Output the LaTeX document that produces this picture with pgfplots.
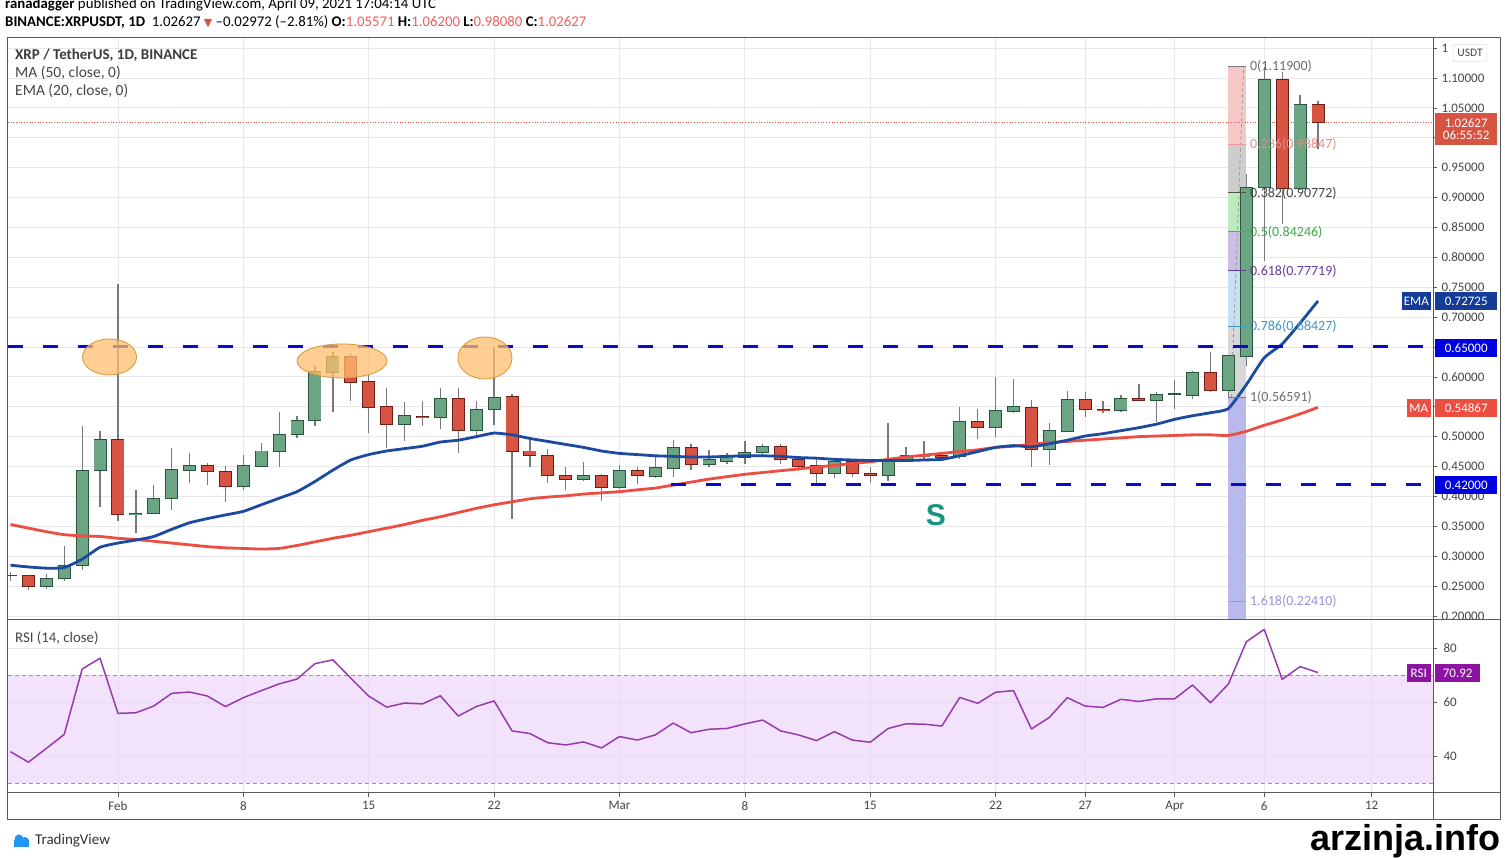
\documentclass[border=0pt]{standalone}
\usepackage{pgfplots}
\pgfplotsset{compat=1.18}
\usepackage{pgfplotstable}
\usepackage{fontspec}
\setmainfont{Carlito}
\newfontfamily\dejavu{DejaVu Sans}
\newfontfamily\arialb{Liberation Sans}
\newcommand\fs[1]{\fontsize{#1}{#1}\selectfont}
\definecolor{upfill}{RGB}{107,165,131}
\definecolor{upline}{RGB}{40,85,60}
\definecolor{dnfill}{RGB}{215,84,66}
\definecolor{dnline}{RGB}{110,30,20}
\definecolor{wick}{RGB}{120,120,125}
\definecolor{emac}{RGB}{27,74,160}
\definecolor{mac}{RGB}{236,78,66}
\definecolor{lvl}{RGB}{10,10,205}
\definecolor{gridc}{RGB}{232,232,236}
\definecolor{txt}{RGB}{70,70,70}
\definecolor{rsic}{RGB}{150,60,170}
\definecolor{rsifill}{RGB}{234,208,250}
\definecolor{ell}{RGB}{255,190,110}
\definecolor{elld}{RGB}{215,150,50}
\definecolor{steal}{RGB}{22,150,130}
\definecolor{pinkred}{RGB}{235,95,95}
\definecolor{frame}{RGB}{90,90,90}
\definecolor{boxblue}{RGB}{20,60,150}
\definecolor{lvlbox}{RGB}{0,0,225}
\definecolor{rsibox}{RGB}{140,20,160}
\definecolor{tvblue}{RGB}{33,150,243}

\pgfplotsset{
  wickplot/.style={draw=none, mark=none, forget plot,
    error bars/.cd, y dir=plus, y explicit, error mark=none,
    error bar style={line width=1.3pt, draw=wick}},
  bodyout/.style={draw=none, mark=none, forget plot,
    error bars/.cd, y dir=plus, y explicit, error mark=none,
    error bar style={line width=13pt, draw=#1}},
  bodyin/.style={draw=none, mark=none, forget plot,
    error bars/.cd, y dir=plus, y explicit, error mark=none,
    error bar style={line width=11.2pt, draw=#1}},
}

\pgfplotstableread{
d o h l c
-6 0.267 0.274 0.258 0.268
-4 0.249 0.270 0.245 0.263
-3 0.263 0.317 0.258 0.284
-2 0.284 0.517 0.277 0.444
-1 0.444 0.509 0.383 0.496
1 0.370 0.411 0.338 0.372
2 0.372 0.419 0.370 0.396
3 0.396 0.481 0.378 0.445
4 0.444 0.473 0.422 0.451
7 0.417 0.469 0.411 0.451
8 0.450 0.490 0.449 0.476
9 0.475 0.542 0.449 0.504
10 0.504 0.534 0.498 0.527
11 0.527 0.618 0.518 0.609
12 0.608 0.642 0.542 0.634
16 0.520 0.558 0.493 0.535
18 0.532 0.582 0.512 0.564
20 0.511 0.560 0.500 0.545
21 0.545 0.650 0.520 0.566
26 0.428 0.458 0.426 0.435
28 0.415 0.453 0.413 0.444
30 0.434 0.468 0.431 0.448
31 0.447 0.494 0.432 0.482
33 0.454 0.477 0.449 0.462
34 0.459 0.472 0.455 0.467
35 0.465 0.492 0.454 0.474
36 0.474 0.487 0.470 0.484
40 0.439 0.464 0.431 0.458
43 0.435 0.522 0.426 0.460
44 0.460 0.482 0.457 0.469
47 0.466 0.550 0.463 0.525
49 0.516 0.600 0.499 0.543
50 0.542 0.596 0.539 0.550
52 0.479 0.523 0.453 0.510
53 0.509 0.577 0.508 0.562
56 0.543 0.569 0.541 0.564
58 0.560 0.574 0.525 0.570
59 0.570 0.595 0.547 0.571
60 0.569 0.610 0.563 0.607
62 0.578 0.637 0.566 0.635
63 0.634 0.939 0.618 0.916
64 0.916 1.119 0.793 1.097
66 0.915 1.072 0.913 1.055
}\upT

\pgfplotstableread{
d o h l c
-5 0.267 0.268 0.243 0.249
0 0.496 0.755 0.359 0.370
5 0.451 0.456 0.419 0.442
6 0.442 0.451 0.390 0.417
13 0.634 0.640 0.560 0.590
14 0.593 0.603 0.506 0.549
15 0.550 0.581 0.481 0.520
17 0.534 0.559 0.518 0.532
19 0.564 0.582 0.472 0.511
22 0.567 0.572 0.363 0.475
23 0.476 0.497 0.450 0.468
24 0.468 0.480 0.423 0.435
25 0.435 0.450 0.410 0.428
27 0.435 0.437 0.392 0.415
29 0.444 0.449 0.420 0.435
32 0.482 0.487 0.445 0.454
37 0.484 0.488 0.454 0.461
38 0.462 0.467 0.443 0.450
39 0.451 0.462 0.422 0.439
41 0.458 0.462 0.433 0.439
42 0.439 0.449 0.422 0.435
45 0.469 0.492 0.463 0.466
46 0.469 0.475 0.460 0.465
48 0.525 0.547 0.496 0.516
51 0.549 0.562 0.450 0.479
54 0.562 0.574 0.533 0.546
55 0.546 0.560 0.539 0.544
57 0.564 0.588 0.559 0.561
61 0.607 0.642 0.574 0.578
65 1.097 1.110 0.855 0.915
67 1.05571 1.062 0.9808 1.02627
}\dnT

\pgfplotstableread{
d ema ma
-6 0.285 0.353
-5 0.282 0.347
-4 0.280 0.341
-3 0.281 0.336
-2 0.295 0.334
-1 0.315 0.333
0 0.322 0.330
1 0.327 0.328
2 0.333 0.325
3 0.345 0.322
4 0.356 0.319
5 0.363 0.316
6 0.369 0.314
7 0.375 0.313
8 0.386 0.312
9 0.397 0.313
10 0.408 0.318
11 0.425 0.324
12 0.444 0.330
13 0.461 0.335
14 0.470 0.341
15 0.476 0.347
16 0.480 0.353
17 0.484 0.360
18 0.491 0.366
19 0.494 0.373
20 0.500 0.380
21 0.506 0.386
22 0.503 0.391
23 0.497 0.396
24 0.492 0.399
25 0.487 0.401
26 0.482 0.404
27 0.476 0.406
28 0.472 0.408
29 0.470 0.411
30 0.468 0.414
31 0.467 0.419
32 0.466 0.424
33 0.466 0.429
34 0.467 0.433
35 0.468 0.437
36 0.468 0.440
37 0.467 0.443
38 0.465 0.446
39 0.464 0.449
40 0.462 0.452
41 0.461 0.455
42 0.460 0.458
43 0.460 0.462
44 0.460 0.466
45 0.461 0.469
46 0.462 0.472
47 0.468 0.475
48 0.475 0.478
49 0.482 0.482
50 0.485 0.484
51 0.483 0.487
52 0.488 0.490
53 0.494 0.492
54 0.501 0.494
55 0.505 0.496
56 0.510 0.498
57 0.515 0.500
58 0.521 0.501
59 0.529 0.502
60 0.535 0.503
61 0.540 0.503
62 0.547 0.502
63 0.587 0.509
64 0.632 0.519
65 0.655 0.528
66 0.690 0.538
67 0.727 0.549
}\maT

\pgfplotstableread{
d rsi
-6 41.6
-5 37.7
-4 42.8
-3 48.0
-2 72.2
-1 76.2
0 55.8
1 56.0
2 58.5
3 63.2
4 63.7
5 62.2
6 58.3
7 61.6
8 64.2
9 66.7
10 68.5
11 74.2
12 75.6
13 68.8
14 62.2
15 58.1
16 59.6
17 59.3
18 62.3
19 54.8
20 58.3
21 60.4
22 49.3
23 48.3
24 44.9
25 44.1
26 45.2
27 43.0
28 47.2
29 45.9
30 47.8
31 52.2
32 48.6
33 49.9
34 50.2
35 51.9
36 53.3
37 49.3
38 47.8
39 45.7
40 49.0
41 45.9
42 45.1
43 50.2
44 51.9
45 51.8
46 51.1
47 61.7
48 59.5
49 63.6
50 64.2
51 50.0
52 54.3
53 61.6
54 58.5
55 58.0
56 61.0
57 60.2
58 61.2
59 61.2
60 66.3
61 59.7
62 66.7
63 82.3
64 86.9
65 68.4
66 73.1
67 70.9
}\rsiT

\begin{document}
\begin{tikzpicture}[x=1pt,y=1pt]
\useasboundingbox (0,0) rectangle (1505,858);
\fill[white] (0,0) rectangle (1505,858);

% ---------------- main price axis ----------------
\begin{axis}[
  at={(8pt,238pt)}, anchor=south west, scale only axis,
  width=1425pt, height=582pt,
  xmin=-6.14, xmax=73.42, ymin=0.1933, ymax=1.1669,
  axis line style={draw=none},
  xtick={0,7,14,21,28,35,42,49,54,59,64,70}, xticklabels={},
  xtick style={draw=none},
  ytick={0.2,0.25,0.3,0.35,0.4,0.45,0.5,0.55,0.6,0.65,0.7,0.75,0.8,0.85,0.9,0.95,1.0,1.05,1.1,1.15},
  yticklabels={0.20000,0.25000,0.30000,0.35000,0.40000,0.45000,0.50000,,0.60000,,0.70000,0.75000,0.80000,0.85000,0.90000,0.95000,,1.05000,1.10000,1},
  ytick pos=right, yticklabel pos=right,
  ytick style={draw=frame, line width=0.6pt},
  tick align=outside, major tick length=4pt,
  yticklabel style={font=\fs{13}, text=txt, anchor=west, xshift=1pt},
  xmajorgrids, ymajorgrids,
  major grid style={draw=gridc, line width=0.8pt},
  clip=true,
]
% Fibonacci bands
\addplot[fill={rgb,255:red,245;green,200;blue,200}, draw=none, forget plot] coordinates {(62,0.98847) (63,0.98847) (63,1.119) (62,1.119)};
\addplot[fill={rgb,255:red,205;green,205;blue,205}, draw=none, forget plot] coordinates {(62,0.90772) (63,0.90772) (63,0.98847) (62,0.98847)};
\addplot[fill={rgb,255:red,190;green,235;blue,190}, draw=none, forget plot] coordinates {(62,0.84246) (63,0.84246) (63,0.90772) (62,0.90772)};
\addplot[fill={rgb,255:red,205;green,190;blue,230}, draw=none, forget plot] coordinates {(62,0.77719) (63,0.77719) (63,0.84246) (62,0.84246)};
\addplot[fill={rgb,255:red,200;green,225;blue,242}, draw=none, forget plot] coordinates {(62,0.68427) (63,0.68427) (63,0.77719) (62,0.77719)};
\addplot[fill={rgb,255:red,215;green,215;blue,215}, draw=none, forget plot] coordinates {(62,0.56591) (63,0.56591) (63,0.68427) (62,0.68427)};
\addplot[fill={rgb,255:red,185;green,185;blue,235}, draw=none, forget plot] coordinates {(62,0.1933) (63,0.1933) (63,0.56591) (62,0.56591)};
\addplot[draw={rgb,255:red,140;green,140;blue,140}, dashed, line width=0.7pt, forget plot] coordinates {(62.15,0.566) (62.85,1.119)};

% current price dotted line
\addplot[dnfill, dotted, line width=0.7pt, forget plot] coordinates {(-6.14,1.02627) (73.42,1.02627)};

% wicks
\addplot[wickplot] table[x=d, y=l, y error expr=\thisrow{h}-\thisrow{l}] \upT;
\addplot[wickplot] table[x=d, y=l, y error expr=\thisrow{h}-\thisrow{l}] \dnT;

% bodies (border then fill)
\addplot[bodyout=upline] table[x=d, y expr={min(\thisrow{o},\thisrow{c})-0.0008}, y error expr={max(abs(\thisrow{c}-\thisrow{o})+0.0016,0.003)}] \upT;
\addplot[bodyin=upfill] table[x=d, y expr={min(\thisrow{o},\thisrow{c})+0.0008}, y error expr={max(abs(\thisrow{c}-\thisrow{o})-0.0016,0)}] \upT;
\addplot[bodyout=dnline] table[x=d, y expr={min(\thisrow{o},\thisrow{c})-0.0008}, y error expr={max(abs(\thisrow{c}-\thisrow{o})+0.0016,0.003)}] \dnT;
\addplot[bodyin=dnfill] table[x=d, y expr={min(\thisrow{o},\thisrow{c})+0.0008}, y error expr={max(abs(\thisrow{c}-\thisrow{o})-0.0016,0)}] \dnT;

% moving averages
\addplot[mac, line width=2.8pt, line join=round, smooth, tension=0.3] table[x=d, y=ma] \maT;
\addplot[emac, line width=2.8pt, line join=round, smooth, tension=0.3] table[x=d, y=ema] \maT;

% horizontal levels
\addplot[lvl, line width=3pt, dash pattern=on 15pt off 20pt, forget plot] coordinates {(-6.14,0.65) (73.42,0.65)};
\addplot[lvl, line width=3pt, dash pattern=on 15pt off 20pt, forget plot] coordinates {(30.9,0.42) (73.42,0.42)};

% highlight ellipses
\filldraw[fill=ell, fill opacity=0.75, draw=elld, line width=0.8pt] (axis cs:-0.47,0.6333) ellipse [x radius=27pt, y radius=18pt];
\filldraw[fill=ell, fill opacity=0.75, draw=elld, line width=0.8pt] (axis cs:12.51,0.6266) ellipse [x radius=45pt, y radius=17pt];
\filldraw[fill=ell, fill opacity=0.75, draw=elld, line width=0.8pt] (axis cs:20.49,0.6316) ellipse [x radius=27pt, y radius=21pt];

% fib level lines
\addplot[draw={rgb,255:red,120;green,120;blue,120}, line width=1pt, forget plot] coordinates {(62,1.119) (63,1.119)};
\addplot[draw={rgb,255:red,240;green,150;blue,150}, line width=1pt, forget plot] coordinates {(62,0.98847) (63,0.98847)};
\addplot[draw={rgb,255:red,80;green,80;blue,80}, line width=1pt, forget plot] coordinates {(62,0.90772) (63,0.90772)};
\addplot[draw={rgb,255:red,76;green,175;blue,80}, line width=1pt, forget plot] coordinates {(62,0.84246) (63,0.84246)};
\addplot[draw={rgb,255:red,90;green,60;blue,150}, line width=1pt, forget plot] coordinates {(62,0.77719) (63,0.77719)};
\addplot[draw={rgb,255:red,60;green,150;blue,200}, line width=1pt, forget plot] coordinates {(62,0.68427) (63,0.68427)};
\addplot[draw={rgb,255:red,120;green,120;blue,120}, line width=1pt, forget plot] coordinates {(62,0.56591) (63,0.56591)};
\addplot[draw={rgb,255:red,150;green,150;blue,220}, line width=1pt, forget plot] coordinates {(62,0.2241) (63,0.2241)};

\begin{scope}[every node/.style={anchor=west, font=\fs{14}, inner sep=0pt}]
\node[text={rgb,255:red,110;green,110;blue,110}] at (axis cs:63.2,1.119) {0(1.11900)};
\node[text={rgb,255:red,232;green,140;blue,140}] at (axis cs:63.2,0.98847) {0.236(0.98847)};
\node[text={rgb,255:red,70;green,70;blue,70}] at (axis cs:63.2,0.90772) {0.382(0.90772)};
\node[text={rgb,255:red,60;green,170;blue,70}] at (axis cs:63.2,0.84246) {0.5(0.84246)};
\node[text={rgb,255:red,100;green,60;blue,160}] at (axis cs:63.2,0.77719) {0.618(0.77719)};
\node[text={rgb,255:red,60;green,150;blue,200}] at (axis cs:63.2,0.68427) {0.786(0.68427)};
\node[text={rgb,255:red,110;green,110;blue,110}] at (axis cs:63.2,0.56591) {1(0.56591)};
\node[text={rgb,255:red,150;green,150;blue,220}] at (axis cs:63.2,0.2241) {1.618(0.22410)};
\end{scope}

\node[text=steal, font=\arialb\bfseries\fs{30}] at (axis cs:45.67,0.369) {S};
\end{axis}

% ---------------- RSI axis ----------------
\begin{axis}[
  at={(8pt,65pt)}, anchor=south west, scale only axis,
  width=1425pt, height=173pt,
  xmin=-6.14, xmax=73.42, ymin=26.3, ymax=90.37,
  axis line style={draw=none},
  xtick={0,7,14,21,28,35,42,49,54,59,64,70},
  xticklabels={Feb,8,15,22,Mar,8,15,22,27,Apr,6,12},
  xtick pos=bottom, ytick pos=right, yticklabel pos=right,
  ytick={40,60,80},
  yticklabels={40,60,80},
  tick align=outside, major tick length=4pt,
  tick style={draw=frame, line width=0.6pt},
  xticklabel style={font=\fs{13}, text=txt, yshift=-1pt},
  yticklabel style={font=\fs{13}, text=txt, anchor=west, xshift=3pt},
  xmajorgrids, ymajorgrids,
  major grid style={draw=gridc, line width=0.8pt},
]
\addplot[fill=rsifill, fill opacity=0.6, draw=none, forget plot] coordinates {(-6.14,30) (73.42,30) (73.42,70) (-6.14,70)};
\addplot[draw={rgb,255:red,150;green,150;blue,155}, dash pattern=on 4pt off 3pt, line width=0.7pt, forget plot] coordinates {(-6.14,70) (73.42,70)};
\addplot[draw={rgb,255:red,150;green,150;blue,155}, dash pattern=on 4pt off 3pt, line width=0.7pt, forget plot] coordinates {(-6.14,30) (73.42,30)};
\addplot[rsic, line width=1.5pt, line join=round] table[x=d, y=rsi] \rsiT;
\end{axis}

% ---------------- frames ----------------
\draw[frame, line width=1pt] (7,820) rectangle (1500,38);
\draw[frame, line width=1pt] (1433,820) -- (1433,38);
\draw[frame, line width=1pt] (7,238) -- (1500,238);
\draw[frame, line width=1pt] (7,65) -- (1500,65);

% ---------------- header ----------------
\node[anchor=base west, font=\fs{14.8}, inner sep=0pt] at (5,849) {\textbf{ranadagger} published on TradingView.com, April 09, 2021 17:04:14 UTC};
\node[anchor=base west, font=\fs{14.8}, inner sep=0pt] at (5,831) {\textbf{BINANCE:XRPUSDT, 1D}\ \ 1.02627 {\dejavu\fs{11}\color{dnfill}▼} --0.02972 (--2.81\%) \textbf{O:}{\color{pinkred}1.05571} \textbf{H:}{\color{pinkred}1.06200} \textbf{L:}{\color{pinkred}0.98080} \textbf{C:}{\color{pinkred}1.02627}};

% legend in chart
\node[anchor=west, font=\bfseries\fs{15}, text={rgb,255:red,60;green,60;blue,60}, inner sep=0pt] at (15,803) {XRP / TetherUS, 1D, BINANCE};
\node[anchor=west, font=\fs{15.5}, text={rgb,255:red,70;green,70;blue,70}, inner sep=0pt] at (15,785) {MA (50, close, 0)};
\node[anchor=west, font=\fs{15.5}, text={rgb,255:red,70;green,70;blue,70}, inner sep=0pt] at (15,767) {EMA (20, close, 0)};
\node[anchor=west, font=\fs{14.8}, text={rgb,255:red,70;green,70;blue,70}, inner sep=0pt] at (15,220) {RSI (14, close)};

% right-side value boxes
\node[fill=white, draw={rgb,255:red,200;green,200;blue,200}, rounded corners=2pt, font=\fs{11.5}, text=txt, inner sep=2pt, minimum height=17pt, minimum width=34pt] at (1470,805) {USDT};
\node[fill=dnfill, text=white, anchor=north west, minimum width=62pt, minimum height=32pt, inner sep=1pt, align=center, font=\fs{13}] at (1435,745) {1.02627\\[-1pt]06:55:52};
\node[fill=boxblue, text=white, anchor=west, minimum width=62pt, minimum height=18pt, inner sep=0pt, font=\fs{13}] at (1435,557) {0.72725};
\node[fill=boxblue, text=white, anchor=east, minimum width=29pt, minimum height=18pt, inner sep=0pt, font=\fs{13}] at (1431,557) {EMA};
\node[fill=lvlbox, text=white, anchor=west, minimum width=62pt, minimum height=18pt, inner sep=0pt, font=\fs{13}] at (1435,510) {0.65000};
\node[fill=lvlbox, text=white, anchor=west, minimum width=62pt, minimum height=18pt, inner sep=0pt, font=\fs{13}] at (1435,373) {0.42000};
\node[fill=mac, text=white, anchor=west, minimum width=62pt, minimum height=18pt, inner sep=0pt, font=\fs{13}] at (1435,450) {0.54867};
\node[fill=mac, text=white, anchor=east, minimum width=24pt, minimum height=18pt, inner sep=0pt, font=\fs{13}] at (1431,450) {MA};
\node[fill=rsibox, text=white, anchor=west, minimum width=45pt, minimum height=18pt, inner sep=0pt, font=\fs{13}] at (1435,185) {70.92};
\node[fill=rsibox, text=white, anchor=east, minimum width=24pt, minimum height=18pt, inner sep=0pt, font=\fs{13}] at (1431,185) {RSI};

% footer
\fill[tvblue] (14,11) rectangle (29,18);
\fill[tvblue] (19,19) circle (4.5);
\fill[tvblue] (25,17) circle (4);
\node[anchor=west, font=\fs{15}, text={rgb,255:red,50;green,50;blue,50}, inner sep=0pt] at (35,17) {TradingView};
\node[anchor=base east, font=\arialb\bfseries\fs{36}, inner sep=0pt] at (1501,7) {arzinja.info};
\end{tikzpicture}
\end{document}
